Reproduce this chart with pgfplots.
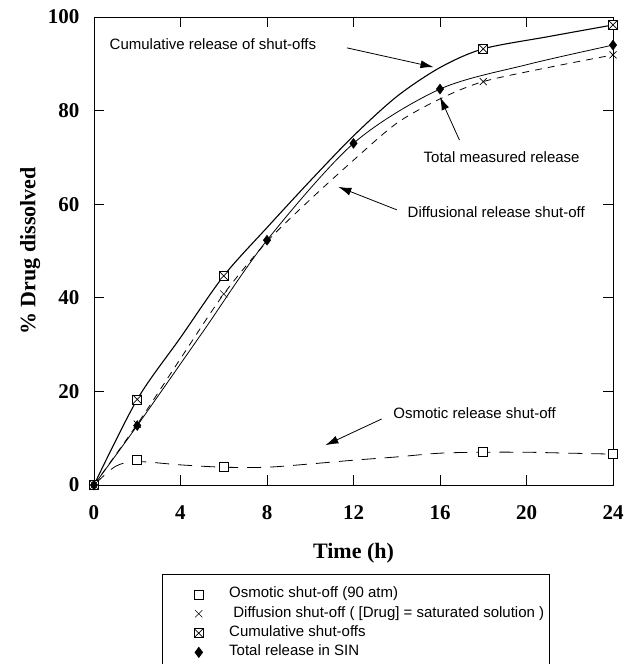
\documentclass[border=0pt]{standalone}
\usepackage{fontspec}
\setmainfont{Liberation Serif}
\newfontfamily\arial{Liberation Sans}
\usepackage{pgfplots}
\pgfplotsset{compat=1.18}
\usetikzlibrary{arrows.meta,calc}

% square with a cross inside
\pgfdeclareplotmark{boxx}{%
  \pgfpathrectangle{\pgfpoint{-\pgfplotmarksize}{-\pgfplotmarksize}}{\pgfpoint{2\pgfplotmarksize}{2\pgfplotmarksize}}%
  \pgfusepathqfillstroke
  \pgfpathmoveto{\pgfpoint{-\pgfplotmarksize}{-\pgfplotmarksize}}%
  \pgfpathlineto{\pgfpoint{\pgfplotmarksize}{\pgfplotmarksize}}%
  \pgfpathmoveto{\pgfpoint{-\pgfplotmarksize}{\pgfplotmarksize}}%
  \pgfpathlineto{\pgfpoint{\pgfplotmarksize}{-\pgfplotmarksize}}%
  \pgfusepathqstroke}

\begin{document}
\begin{tikzpicture}
\begin{axis}[
    name=ax,
    scale only axis, width=519pt, height=468pt,
    xmin=0, xmax=24, ymin=0, ymax=100,
    xtick={0,4,...,24}, ytick={0,20,...,100},
    tick align=inside, major tick length=10pt,
    tick style={black, line width=0.8pt},
    axis line style={line width=0.9pt},
    clip=false,
    /pgf/number format/assume math mode=true,
    tick label style={font=\bfseries\fontsize{21}{21}\selectfont},
    xticklabel style={yshift=-17pt},
    yticklabel style={xshift=-11pt},
    label style={font=\bfseries\fontsize{22}{22}\selectfont},
    xlabel={Time (h)},
    xlabel style={at={(axis description cs:0.5,-0.145)}, anchor=center},
    ylabel={\% Drug dissolved},
    ylabel style={at={(axis description cs:-0.123,0.5)}, anchor=center},
    legend style={at={(axis description cs:0.131,-0.19)}, anchor=north west,
        draw=black, line width=0.8pt, inner xsep=3pt, inner ysep=10.5pt,
        font=\arial\fontsize{15}{15}\selectfont,
        nodes={inner sep=2pt, text height=11pt, text depth=4.3pt},
        row sep=0pt},
    legend cell align=left,
    legend image code/.code={\path (-33pt,0pt) (28pt,0pt);
        \draw[#1] plot coordinates {(0pt,0pt)};},
]
% curves
\addplot[black, line width=0.8pt, dash pattern=on 14pt off 9pt, smooth, forget plot] coordinates {
    (0,0)(1,4)(2,5)(4,4.3)(6,3.8)(8,3.8)(10,4.5)(12,5.3)(14,6)(16,6.8)(18,7)(20,7)(22,6.8)(24,6.6)};
\addplot[black, line width=0.8pt, dash pattern=on 7pt off 6pt, smooth, forget plot] coordinates {
    (0,0)(2,13)(4,27)(6,40.8)(8,52)(10,61)(12,69.4)(14,77.3)(16,82.5)(18,86.2)(21,89.2)(24,91.9)};
\addplot[black, line width=1.1pt, smooth, forget plot] coordinates {
    (0,0)(2,18.3)(4,31.5)(6,44.7)(8,55)(10,65)(12,74.6)(14,83)(16,89.2)(18,93.2)(21,95.8)(24,98.3)};
\addplot[black, line width=0.8pt, smooth, forget plot] coordinates {
    (0,0)(2,12.7)(5,32.5)(8,52.3)(12,73)(16,84.6)(20,89.8)(24,94)};
% markers
\addplot[black, only marks, mark=square*, mark size=4.5pt, mark options={fill=white, line width=0.7pt}] coordinates {
    (0,0)(2,5.3)(6,3.8)(18,7)(24,6.6)};
\addplot[black, only marks, mark=x, mark size=5pt, mark options={line width=0.6pt}] coordinates {
    (0,0)(2,13)(6,40.8)(18,86.2)(24,91.9)};
\addplot[black, only marks, mark=boxx, mark size=4.5pt, mark options={fill=white, line width=0.7pt}] coordinates {
    (0,0)(2,18.3)(6,44.7)(18,93.2)(24,98.3)};
\addplot[black, only marks, mark=diamond*, mark size=5pt] coordinates {
    (0,0)(2,12.7)(8,52.3)(12,73)(16,84.6)(24,94)};
\legend{Osmotic shut-off (90 atm),
        \ Diffusion shut-off ( [Drug] = saturated solution ),
        Cumulative shut-offs,
        Total release in SIN}

% annotations
\begin{scope}[font=\arial\fontsize{15}{15}\selectfont]
\node at (axis cs:5.5,94.2) {Cumulative release of shut-offs};
\draw[-{Latex[length=13pt,width=8pt]}, line width=0.8pt] (axis cs:11.7,93.4) -- (axis cs:15.7,89.3);
\node at (axis cs:18.85,70.1) {Total measured release};
\draw[-{Latex[length=13pt,width=8pt]}, line width=0.8pt] (axis cs:16.9,73.7) -- (axis cs:16.0,82.9);
\node at (axis cs:18.6,58.3) {Diffusional release shut-off};
\draw[-{Latex[length=13pt,width=8pt]}, line width=0.8pt] (axis cs:14.0,58.8) -- (axis cs:11.3,63.7);
\node at (axis cs:17.6,15.4) {Osmotic release shut-off};
\draw[-{Latex[length=13pt,width=8pt]}, line width=0.8pt] (axis cs:13.3,14.1) -- (axis cs:10.7,8.5);
\end{scope}
\end{axis}
\pgfresetboundingbox
\useasboundingbox ($(ax.south west)+(-94pt,-179pt)$) rectangle ($(ax.south west)+(540pt,485pt)$);
\end{tikzpicture}
\end{document}
